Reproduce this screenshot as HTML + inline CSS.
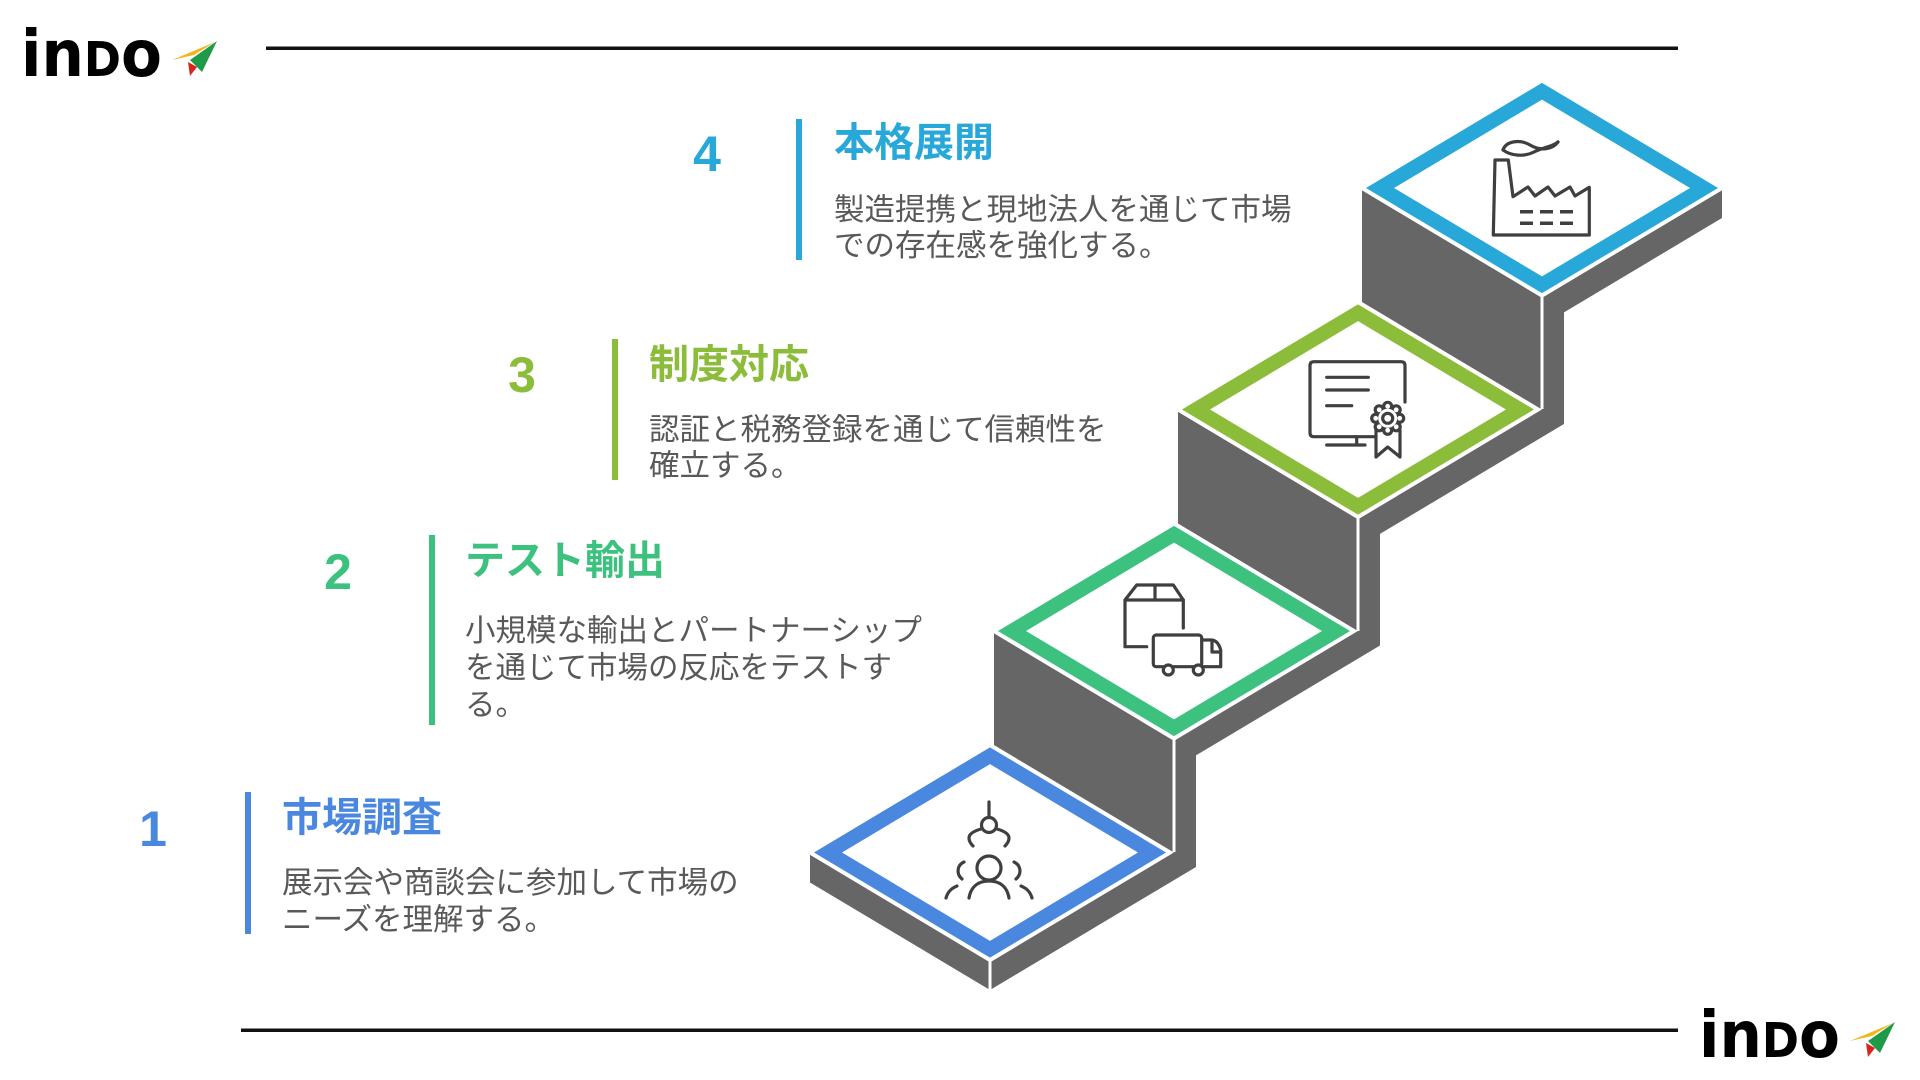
<!DOCTYPE html>
<html>
<head>
<meta charset="utf-8">
<style>
  html,body{margin:0;padding:0;background:#fff;}
  body{width:1920px;height:1080px;overflow:hidden;}
  svg{display:block;}
  .num{font-family:"Liberation Sans","DejaVu Sans",sans-serif;font-weight:bold;font-size:50px;}
  .ttl{font-family:"Liberation Sans","Noto Sans CJK JP",sans-serif;font-weight:bold;font-size:40px;}
  .dsc{font-family:"Liberation Sans","Noto Sans CJK JP",sans-serif;font-size:30.5px;fill:#595959;}
  .logo{font-family:"DejaVu Sans","Liberation Sans",sans-serif;font-weight:bold;fill:#000;}
  .ic{fill:none;stroke:#3f3f3f;stroke-width:3.2;stroke-linecap:round;stroke-linejoin:round;}
</style>
</head>
<body>
<svg width="1920" height="1080" viewBox="0 0 1920 1080" xmlns="http://www.w3.org/2000/svg">
  <!-- header / footer lines -->
  <rect x="266" y="46.5" width="1412" height="3.5" fill="#111"/>
  <rect x="241" y="1028.5" width="1437" height="3.5" fill="#111"/>

  <!-- top logo -->
  <g transform="translate(24,41)">
    <text class="logo" x="-3" y="35" font-size="64" textLength="141" lengthAdjust="spacingAndGlyphs">in<tspan font-size="48">D</tspan>o</text>
    <polygon points="148,19 191,1 170,14" fill="#f2b61f"/>
    <polygon points="193,0 166,19 178,31" fill="#1f9a48"/>
    <polygon points="164,21 173,26 166,35" fill="#d9261c"/>
  </g>
  <!-- bottom logo -->
  <g transform="translate(1702,1022)">
    <text class="logo" x="-3" y="35" font-size="64" textLength="141" lengthAdjust="spacingAndGlyphs">in<tspan font-size="48">D</tspan>o</text>
    <polygon points="148,19 191,1 170,14" fill="#f2b61f"/>
    <polygon points="193,0 166,19 178,31" fill="#1f9a48"/>
    <polygon points="164,21 173,26 166,35" fill="#d9261c"/>
  </g>

  <!-- staircase gray silhouette -->
  <polygon fill="#666666" points="
    810,852.5 990,745 994,747.4 994,631 1174,523.5 1178,525.9 1178,409.5 1358,302 1362,304.4 1362,188
    1542,80.5 1722,188 1722,218 1564,312.4 1564,424 1380,533.9 1380,645.5 1196,755.4 1196,867 990,990 810,882.5"/>

  <!-- vertical white separators -->
  <g stroke="#fff" stroke-width="3">
    <line x1="990" y1="960" x2="990" y2="990"/>
    <line x1="1174" y1="738" x2="1174" y2="852"/>
    <line x1="1358" y1="517" x2="1358" y2="631"/>
    <line x1="1542" y1="295" x2="1542" y2="409"/>
  </g>

  <!-- diamonds -->
  <g stroke="#fff" stroke-width="4" stroke-linejoin="miter">
    <polygon fill="#4a88e0" points="810,852.5 990,745 1170,852.5 990,960"/>
    <polygon fill="#3cc17e" points="994,631 1174,523.5 1354,631 1174,738.5"/>
    <polygon fill="#8cbd3a" points="1178,409.5 1358,302 1538,409.5 1358,517"/>
    <polygon fill="#28a8d8" points="1362,188 1542,80.5 1722,188 1542,295.5"/>
  </g>
  <g fill="#fff">
    <polygon points="842,852.5 990,764.1 1138,852.5 990,940.9"/>
    <polygon points="1026,631 1174,542.6 1322,631 1174,719.4"/>
    <polygon points="1210,409.5 1358,321.1 1506,409.5 1358,497.9"/>
    <polygon points="1394,188 1542,99.6 1690,188 1542,276.4"/>
  </g>

  <!-- icon 1: people / research -->
  <g class="ic">
    <path d="M989,802 V817"/>
    <circle cx="989" cy="825" r="7.5"/>
    <path d="M981,829 C974,831 969,834 969,838 C969,841 971,844 973,846"/>
    <path d="M997,829 C1004,831 1009,834 1009,838 C1009,841 1007,844 1005,846"/>
    <circle cx="989" cy="868" r="12"/>
    <path d="M969,898 C971,886 979,881 989,881 C999,881 1007,886 1009,898"/>
    <path d="M964,862 C957,865 956,874 962,879"/>
    <path d="M1014,862 C1021,865 1022,874 1016,879"/>
    <path d="M946,898 C948,891 952,888 957,886"/>
    <path d="M1032,898 C1030,891 1026,888 1021,886"/>
  </g>

  <!-- icon 2: box + truck -->
  <g class="ic">
    <path d="M1146.7,646.7 H1125 V600 L1136.7,585 H1173.3 L1183.3,600 V628"/>
    <path d="M1125,600 H1183.3"/>
    <path d="M1155,585 V600"/>
    <rect x="1153.3" y="635" width="48.4" height="31.7" rx="3"/>
    <path d="M1201.7,640 H1211 Q1218,640 1220.7,650 V666.7 H1201.7"/>
    <path d="M1212,641 V652 H1220"/>
    <circle cx="1168.3" cy="670" r="5" fill="#fff"/>
    <circle cx="1198.3" cy="670" r="5" fill="#fff"/>
  </g>

  <!-- icon 3: certificate monitor -->
  <g class="ic">
    <path d="M1375,436.7 H1314 Q1310,436.7 1310,432.7 V365.7 Q1310,361.7 1314,361.7 H1401 Q1405,361.7 1405,365.7 V402"/>
    <path d="M1356.7,436.7 V445"/>
    <path d="M1326.7,445 H1365"/>
    <path d="M1326.7,377.3 H1368.3"/>
    <path d="M1326.7,390 H1368.3"/>
    <path d="M1326.7,405.7 H1351.7"/>
    <path d="M1376,430 V457 L1387.7,447 L1400,457 V430"/>
    <g fill="#fff">
      <circle cx="1387.7" cy="406.3" r="4"/>
      <circle cx="1396.2" cy="409.8" r="4"/>
      <circle cx="1399.7" cy="418.3" r="4"/>
      <circle cx="1396.2" cy="426.8" r="4"/>
      <circle cx="1387.7" cy="430.3" r="4"/>
      <circle cx="1379.2" cy="426.8" r="4"/>
      <circle cx="1375.7" cy="418.3" r="4"/>
      <circle cx="1379.2" cy="409.8" r="4"/>
    </g>
    <circle cx="1387.7" cy="418.3" r="9.5" fill="#fff" stroke="none"/>
    <circle cx="1387.7" cy="418.3" r="5"/>
  </g>

  <!-- icon 4: factory -->
  <g class="ic">
    <path d="M1493.3,235 L1495,160 H1508.3 L1513,196.7 L1528,187 L1535,196 L1548,187 L1555,196 L1570,187 L1575,196 L1589.3,187.3 V235 Z"/>
    <path d="M1503,150 C1506,141 1520,139 1530,145 C1540,151 1552,150 1558,142"/>
    <path d="M1503,150 C1511,156 1524,157 1534,152 C1544,147 1552,147 1558,142"/>
    <g stroke-width="3.5" stroke-linecap="butt">
      <path d="M1520,211.7 H1533 M1540,211.7 H1553 M1560,211.7 H1573"/>
      <path d="M1520,223.3 H1533 M1540,223.3 H1553 M1560,223.3 H1573"/>
    </g>
  </g>

  <!-- Step 4 -->
  <text class="num" x="707" y="171" text-anchor="middle" fill="#28a8d8">4</text>
  <rect x="796" y="119" width="6" height="141" fill="#28a8d8"/>
  <text class="ttl" x="834" y="156" fill="#28a8d8">本格展開</text>
  <text class="dsc" x="834" y="220">製造提携と現地法人を通じて市場</text>
  <text class="dsc" x="834" y="256">での存在感を強化する。</text>

  <!-- Step 3 -->
  <text class="num" x="522" y="392" text-anchor="middle" fill="#8cbd3a">3</text>
  <rect x="612" y="339" width="6" height="141" fill="#8cbd3a"/>
  <text class="ttl" x="649" y="378" fill="#8cbd3a">制度対応</text>
  <text class="dsc" x="649" y="440">認証と税務登録を通じて信頼性を</text>
  <text class="dsc" x="649" y="476">確立する。</text>

  <!-- Step 2 -->
  <text class="num" x="338" y="589" text-anchor="middle" fill="#3cc17e">2</text>
  <rect x="429" y="535" width="6" height="190" fill="#3cc17e"/>
  <text class="ttl" x="465" y="574" fill="#3cc17e">テスト輸出</text>
  <text class="dsc" x="465" y="641">小規模な輸出とパートナーシップ</text>
  <text class="dsc" x="465" y="678">を通じて市場の反応をテストす</text>
  <text class="dsc" x="465" y="715">る。</text>

  <!-- Step 1 -->
  <text class="num" x="153" y="846" text-anchor="middle" fill="#4a88e0">1</text>
  <rect x="245" y="792" width="6" height="142" fill="#4a88e0"/>
  <text class="ttl" x="282" y="831" fill="#4a88e0">市場調査</text>
  <text class="dsc" x="282" y="893">展示会や商談会に参加して市場の</text>
  <text class="dsc" x="282" y="930">ニーズを理解する。</text>
</svg>
</body>
</html>
